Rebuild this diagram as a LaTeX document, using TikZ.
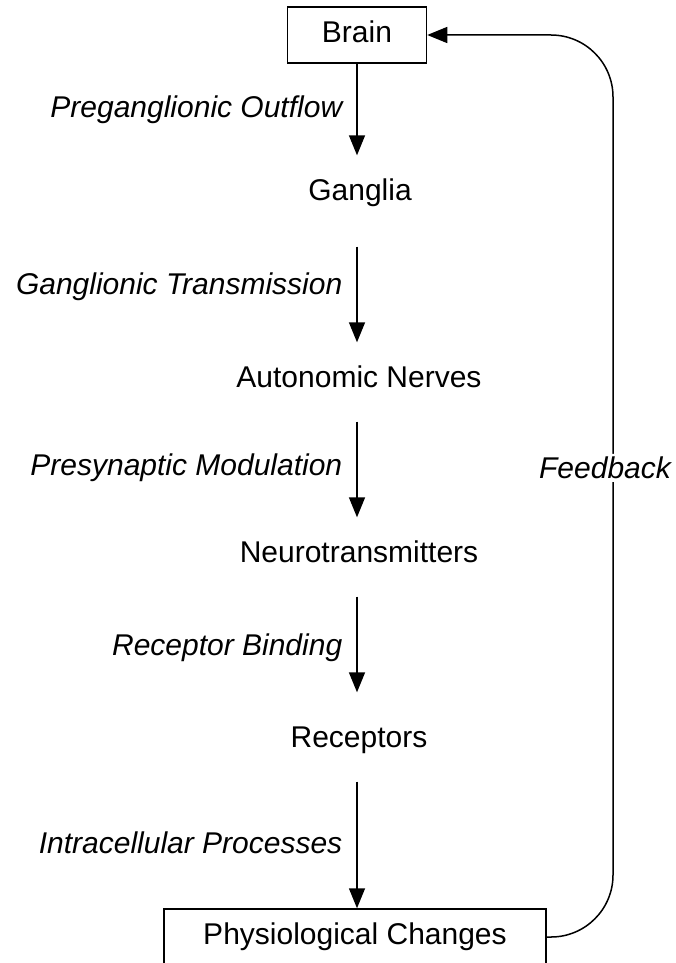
\documentclass[tikz,border=0pt]{standalone}
\usepackage{fontspec}
\setmainfont{Liberation Sans}
\usetikzlibrary{arrows.meta}

\begin{document}
\begin{tikzpicture}[x=1pt, y=-1pt,
    stage/.style={font=\fontsize{30}{34}\selectfont, text height=21pt, text depth=6pt, inner xsep=0pt, inner ysep=24pt},
    stagebox/.style={stage, draw, line width=1.5pt, inner ysep=14.5pt, inner xsep=0pt},
    flow/.style={-{Triangle[length=20pt, width=16pt]}, line width=1.5pt},
    steplabel/.style={font=\fontsize{30}{34}\selectfont\itshape, anchor=east, inner sep=0pt, xshift=-14pt}]

\useasboundingbox (0,0) rectangle (676,963);

%% ---- Stages ----
\node[stagebox, minimum width=139pt] (brain) at (357,35) {Brain};
\node[stage] (ganglia)   at (360,193) {Ganglia};
\node[stage] (nerves)    at (359,380) {Autonomic Nerves};
\node[stage] (transm)    at (359,555) {Neurotransmitters};
\node[stage] (receptors) at (359,740) {Receptors};
\node[stagebox, minimum width=382pt] (changes) at (355,937) {Physiological Changes};

%% ---- Frecce verticali ----
\draw[flow] (brain.south) -- node[steplabel] (outflow) {Preganglionic Outflow} (brain.south |- ganglia.north);
\draw[flow, shorten <=16pt] (brain.south |- ganglia.south) -- node[steplabel] (gtrans) {Ganglionic Transmission} (brain.south |- nerves.north);
\draw[flow, shorten <=4pt] (brain.south |- nerves.south) -- node[steplabel] (presyn) {Presynaptic Modulation} (brain.south |- transm.north);
\draw[flow, shorten <=4pt, shorten >=10pt] (brain.south |- transm.south) -- node[steplabel] (binding) {Receptor Binding} (brain.south |- receptors.north);
\draw[flow, shorten <=4pt] (brain.south |- receptors.south) -- node[steplabel] (intra) {Intracellular Processes} (brain.south |- changes.north);

%% ---- Feedback ----
\coordinate (fbline) at (613,0);
\draw[flow, rounded corners=62pt] (changes.east) -| node[pos=0.76, fill=white, inner sep=3pt, xshift=-8pt, font=\fontsize{30}{34}\selectfont\itshape] (feedback) {Feedback} (fbline |- brain.east) -- (brain.east);

\end{tikzpicture}
\end{document}
